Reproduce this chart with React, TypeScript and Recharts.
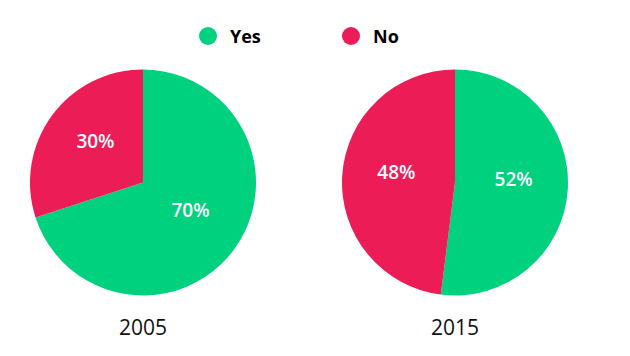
import { PieChart, Pie, Cell } from "recharts";

const answers = ["Yes", "No"];
const colors = ["#00D17F", "#EC1D56"];
const years = ["2005", "2015"];
const values2005 = [70, 30];
const values2015 = [52, 48];

const toRows = (vals: number[]) => answers.map((name, i) => ({ name, value: vals[i] }));

const RAD = Math.PI / 180;

function SliceLabel(props: any) {
  const { cx, cy, midAngle, outerRadius, value } = props;
  const r = outerRadius * 0.52;
  const x = cx + r * Math.cos(-midAngle * RAD);
  const y = cy + r * Math.sin(-midAngle * RAD) - 7;
  return (
    <text
      x={x}
      y={y}
      fill="#fff"
      textAnchor="middle"
      dominantBaseline="central"
      fontFamily="'Open Sans', sans-serif"
      fontWeight={600}
      fontSize={19}
    >
      {value}%
    </text>
  );
}

function TopLegend() {
  return (
    <div style={{ position: "absolute", left: 0, top: 24, width: 630, height: 30, fontFamily: "'Open Sans', sans-serif" }}>
      {answers.map((a, i) => (
        <div
          key={a}
          style={{
            position: "absolute",
            left: i === 0 ? 199 : 342,
            top: 0,
            display: "flex",
            alignItems: "center",
            fontWeight: 700,
            fontSize: 18,
            color: "#000",
          }}
        >
          <span
            style={{
              width: 18,
              height: 18,
              borderRadius: "50%",
              background: colors[i],
              marginRight: 13,
              display: "inline-block",
            }}
          />
          {a}
        </div>
      ))}
    </div>
  );
}

export default function App() {
  const pies = [values2005, values2015];
  const centers = [143, 455];
  return (
    <div style={{ position: "absolute", left: 0, top: 0, width: 630, height: 356, background: "#fff" }}>
      <PieChart width={630} height={356} margin={{ top: 0, right: 0, bottom: 0, left: 0 }}>
        {pies.map((vals, p) => (
          <Pie
            key={years[p]}
            data={toRows(vals)}
            dataKey="value"
            nameKey="name"
            cx={centers[p]}
            cy={182.5}
            outerRadius={113}
            startAngle={90}
            endAngle={-270}
            stroke="none"
            label={SliceLabel}
            labelLine={false}
            isAnimationActive={false}
          >
            {vals.map((_, i) => (
              <Cell key={i} fill={colors[i]} />
            ))}
          </Pie>
        ))}
        {years.map((y, p) => (
          <text
            key={y}
            x={centers[p]}
            y={335}
            textAnchor="middle"
            fontFamily="'Open Sans', sans-serif"
            fontSize={21}
            fill="#111"
          >
            {y}
          </text>
        ))}
      </PieChart>
      <TopLegend />
    </div>
  );
}
